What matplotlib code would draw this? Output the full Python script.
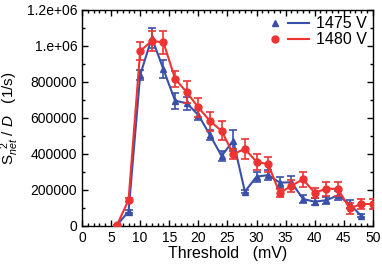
import numpy as np
import matplotlib
matplotlib.use("Agg")
import matplotlib.pyplot as plt
from matplotlib.ticker import MultipleLocator, FixedLocator, FixedFormatter
from matplotlib.lines import Line2D
from matplotlib.legend_handler import HandlerTuple

plt.rcParams['font.family'] = ['Liberation Sans', 'DejaVu Sans']
plt.rcParams['mathtext.fontset'] = 'custom'
plt.rcParams['mathtext.rm'] = 'Liberation Sans'
plt.rcParams['mathtext.it'] = 'Liberation Sans:italic'

# threshold (mV)
thr_1475 = [6, 8, 10, 12, 14, 16, 18, 20, 22, 24, 26, 28, 30, 32, 34, 36, 38, 40, 42, 44, 46, 48]
thr_1480 = [6, 8, 10, 12, 14, 16, 18, 20, 22, 24, 26, 28, 30, 32, 34, 36, 38, 40, 42, 44, 46, 48, 50]

# S_net^2 / D (1/s)
val_1475 = [5000, 80000, 839000, 1046000, 870000, 696000, 682000, 617000, 505000, 389000,
            474000, 191000, 274000, 283000, 241000, 243000, 150000, 135000, 143000, 170000,
            122000, 57000]
err_1475 = [3000, 8000, 28000, 55000, 50000, 44000, 35000, 30000, 28000, 26000,
            60000, 8000, 28000, 28000, 32000, 32000, 21000, 21000, 20000, 25000,
            23000, 8000]
val_1480 = [5000, 144000, 972000, 1028000, 1020000, 818000, 743000, 659000, 583000, 528000,
            400000, 428000, 357000, 343000, 182000, 224000, 259000, 185000, 207000, 206000,
            98000, 122000, 122000]
err_1480 = [3000, 10000, 48000, 54000, 65000, 45000, 60000, 53000, 53000, 53000,
            30000, 55000, 45000, 43000, 23000, 34000, 42000, 28000, 39000, 40000,
            30000, 27000, 27000]

blue = '#3a50a8'
red = '#ee3333'

fig = plt.figure(figsize=(3.82, 2.70), dpi=100)
ax = fig.add_axes([0.2147, 0.163, 0.7613, 0.8])

ax.errorbar(thr_1475, val_1475, yerr=err_1475, color=blue, marker='^', markersize=4.5,
            lw=1.5, elinewidth=1.2, capsize=2.8, capthick=1.2, zorder=2)
ax.errorbar(thr_1480, val_1480, yerr=err_1480, color=red, marker='o', markersize=5,
            lw=1.5, elinewidth=1.2, capsize=2.8, capthick=1.2, zorder=3)

ax.set_xlim(0, 50)
ax.set_ylim(0, 1.2e6)
ax.xaxis.set_major_locator(MultipleLocator(5))
ax.xaxis.set_minor_locator(MultipleLocator(1))
yt = [0, 200000, 400000, 600000, 800000, 1000000, 1200000]
ax.yaxis.set_major_locator(FixedLocator(yt))
ax.yaxis.set_major_formatter(FixedFormatter(['0', '200000', '400000', '600000', '800000',
                                             '1.e+06', '1.2e+06']))
ax.yaxis.set_minor_locator(MultipleLocator(100000))
ax.tick_params(which='both', direction='in', top=True, right=True, labelsize=10, width=1)
ax.tick_params(which='major', length=4)
ax.tick_params(which='minor', length=2)
for s in ax.spines.values():
    s.set_linewidth(1)

ax.set_xlabel('Threshold   (mV)', fontsize=11.5, labelpad=1)
ax.set_ylabel(r'S$_{net}^{\ \ 2}$ / $\it{D}$   (1/s)', fontsize=11, labelpad=4)

hb = (Line2D([], [], color=blue, marker='^', markersize=4.5, ls='none'),
      Line2D([], [], color=blue, lw=1.5))
hr = (Line2D([], [], color=red, marker='o', markersize=5, ls='none'),
      Line2D([], [], color=red, lw=1.5))
ax.legend([hb, hr], ['1475 V', '1480 V'], loc='upper right', frameon=False, fontsize=11.5,
          handler_map={tuple: HandlerTuple(ndivide=None, pad=0.2)}, handlelength=2.8,
          handletextpad=0.4, labelspacing=0.05, borderaxespad=0.1, borderpad=0.3)

fig.savefig('out.png', dpi=100)
